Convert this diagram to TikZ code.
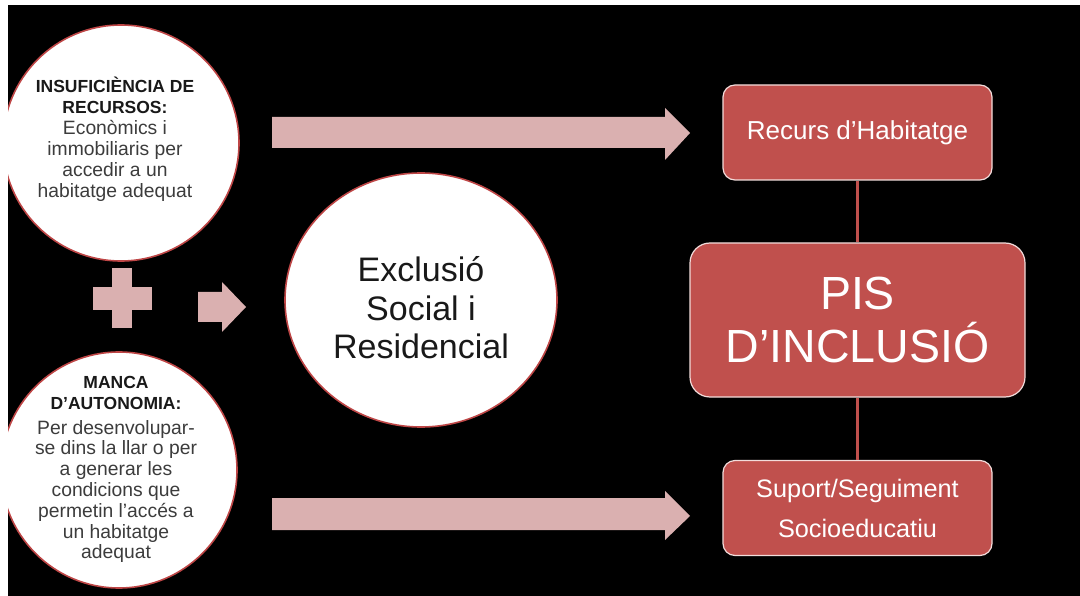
\documentclass[tikz,border=0pt]{standalone}
\usepackage{fontspec}
\setmainfont{Liberation Sans}
\usetikzlibrary{shapes.geometric}
\definecolor{boxred}{RGB}{192,80,77}
\definecolor{boxedge}{RGB}{242,220,219}
\definecolor{arrowpink}{RGB}{218,176,176}
\definecolor{circedge}{RGB}{190,70,70}
\definecolor{bodygray}{RGB}{60,60,60}
\definecolor{titleblk}{RGB}{25,25,25}
\tikzset{
  circ/.style={circle, fill=white, draw=circedge, line width=1.6pt, inner sep=0pt},
  ellc/.style={ellipse, fill=white, draw=circedge, line width=1.6pt, inner sep=0pt},
  redbox/.style={rounded corners=12pt, fill=boxred, draw=boxedge, line width=1.2pt, text=white, align=center, inner sep=0pt},
  blockarrow/.style={fill=arrowpink},
  link/.style={draw=boxred, line width=2.4pt},
  smalltxt/.style={align=center, text=bodygray, font=\fontsize{19.3}{20.8}\selectfont},
}
\newcommand{\ttlfont}{\fontsize{17.5}{18}\selectfont\bfseries\color{titleblk}}
\begin{document}
\begin{tikzpicture}[x=1pt,y=-1pt]
\useasboundingbox (0,0) rectangle (1080,596);
\fill[white] (0,0) rectangle (1080,596);
\fill[black] (8,5) rectangle (1080,596);
\begin{scope}
\clip (8,5) rectangle (1080,596);
\node[circ, minimum size=236pt] (insuf) at (121,143) {};
\node[circ, minimum size=236pt] (manca) at (119,470) {};
\end{scope}
\node[ellc, minimum width=272pt, minimum height=254pt] (excl) at (421,300) {};
% texts in circles
\node[smalltxt] (insuftxt) at (115,139) {\ttlfont INSUFICIÈNCIA DE\\\ttlfont RECURSOS:\\[1pt]
Econòmics i\\immobiliaris per\\accedir a un\\habitatge adequat};
\node[smalltxt] (mancatxt) at (116,469.5) {\ttlfont MANCA\\\ttlfont D’AUTONOMIA:\\[4pt]
Per desenvolupar-\\se dins la llar o per\\a generar les\\condicions que\\permetin l’accés a\\un habitatge\\adequat};
\node[align=center, text=titleblk, font=\fontsize{34}{38.5}\selectfont] (excltxt) at (421,308) {Exclusió\\Social i\\Residencial};
% plus sign
\fill[blockarrow] (112,268) rectangle (132,328);
\fill[blockarrow] (93,287) rectangle (152,310);
% small arrow
\fill[blockarrow] (198,292) -- (222,292) -- (222,282) -- (246,307) -- (222,332) -- (222,322) -- (198,322) -- cycle;
% right boxes
\node[redbox, minimum width=269pt, minimum height=95pt, font=\fontsize{26}{30}\selectfont] (recurs) at (857.5,132.5) {Recurs d’Habitatge};
\node[redbox, rounded corners=20pt, minimum width=335pt, minimum height=154pt, font=\fontsize{46.5}{53}\selectfont] (pis) at (857.5,320) {PIS\\D’INCLUSIÓ};
\node[redbox, minimum width=269pt, minimum height=95pt, font=\fontsize{25.3}{40}\selectfont] (suport) at (857.5,508) {Suport/Seguiment\\Socioeducatiu};
\draw[link] (recurs.south) -- (pis.north);
\draw[link] (pis.south) -- (suport.north);
% long arrows
\fill[blockarrow] (272,117) -- (665,117) -- (665,108) -- (690,133) -- (665,160) -- (665,148) -- (272,148) -- cycle;
\fill[blockarrow] (272,498) -- (665,498) -- (665,491) -- (690,516) -- (665,540) -- (665,530) -- (272,530) -- cycle;
\end{tikzpicture}
\end{document}
